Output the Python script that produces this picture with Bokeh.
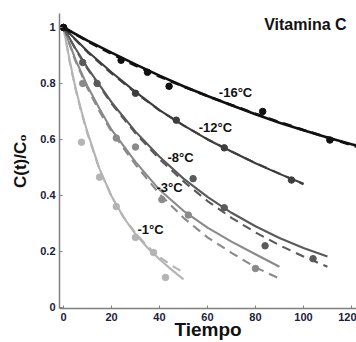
from bokeh.plotting import figure
from bokeh.models import Range1d, FixedTicker, Label
from bokeh.embed import file_html
from bokeh.resources import INLINE

# ---- data ----
temps = ["-16°C", "-12°C", "-8°C", "-3°C", "-1°C"]
colors = ["#111111", "#3e3e3e", "#5a5a5a", "#8a8a8a", "#b4b4b4"]

t16 = [0, 10, 20, 30, 40, 50, 60, 70, 80, 90, 100, 110, 120, 125]
s16 = [1, 0.953, 0.91, 0.868, 0.828, 0.79, 0.755, 0.722, 0.69, 0.66, 0.633, 0.607, 0.583, 0.572]
d16 = [1, 0.951, 0.906, 0.864, 0.825, 0.789, 0.755, 0.723, 0.692, 0.662, 0.634, 0.607, 0.580, 0.567]

t12 = [0, 10, 20, 30, 40, 50, 60, 70, 80, 90, 100]
s12 = [1, 0.915, 0.84, 0.77, 0.705, 0.65, 0.6, 0.557, 0.515, 0.477, 0.442]
d12 = [1, 0.912, 0.836, 0.767, 0.704, 0.65, 0.601, 0.557, 0.516, 0.478, 0.440]

t8 = [0, 5, 10, 20, 30, 40, 50, 60, 70, 80, 90, 100, 110]
s8 = [1, 0.925, 0.856, 0.733, 0.628, 0.538, 0.46, 0.395, 0.338, 0.29, 0.248, 0.212, 0.182]
d8 = [1, 0.922, 0.852, 0.728, 0.622, 0.53, 0.45, 0.38, 0.32, 0.268, 0.222, 0.182, 0.145]

t3 = [0, 5, 10, 15, 20, 30, 40, 50, 60, 70, 80, 90]
s3 = [1, 0.885, 0.79, 0.71, 0.635, 0.52, 0.42, 0.345, 0.285, 0.235, 0.19, 0.145]
d3 = [1, 0.88, 0.783, 0.70, 0.628, 0.51, 0.405, 0.32, 0.25, 0.195, 0.143, 0.103]

t1 = [0, 2.5, 5, 7.5, 10, 15, 20, 25, 30, 35, 40, 45, 50]
s1 = [1, 0.885, 0.785, 0.7, 0.625, 0.495, 0.398, 0.322, 0.262, 0.213, 0.172, 0.135, 0.10]
d1 = [1, 0.88, 0.78, 0.695, 0.62, 0.492, 0.397, 0.323, 0.265, 0.218, 0.18, 0.15, 0.125]

p16_t = [0, 24, 35, 44, 83, 111]
p16_c = [1, 0.883, 0.84, 0.79, 0.70, 0.598]
p12_t = [0, 30, 47, 67, 95]
p12_c = [1, 0.765, 0.669, 0.57, 0.455]
p8_t = [0, 8, 14, 54, 67, 84, 104]
p8_c = [1, 0.875, 0.80, 0.46, 0.356, 0.22, 0.174]
p3_t = [0, 8, 22, 30, 41, 52, 80]
p3_c = [1, 0.80, 0.605, 0.573, 0.385, 0.33, 0.139]
p1_t = [0, 7.5, 15, 22, 30, 37.5, 42.5]
p1_c = [1, 0.59, 0.465, 0.36, 0.25, 0.196, 0.107]

# label anchor positions (data units)
label_t = [71.7, 63.3, 48.8, 44.2, 36.3]
label_c = [0.769, 0.644, 0.537, 0.43, 0.278]

x_ticks = [0, 20, 40, 60, 80, 100, 120]
y_ticks = [0, 0.2, 0.4, 0.6, 0.8, 1]
y_tick_labels = ["0", "0.2", "0.4", "0.6", "0.8", "1"]

FONT = "Liberation Sans"

p = figure(width=356, height=342, output_backend="svg", toolbar_location=None,
           x_range=Range1d(-1.67, 122.1), y_range=Range1d(-0.004, 1.05),
           min_border_left=59, min_border_right=0, min_border_top=13, min_border_bottom=0)
p.grid.visible = False
p.outline_line_color = None
p.background_fill_color = "white"

series = [
    (t16, s16, d16, p16_t, p16_c),
    (t12, s12, d12, p12_t, p12_c),
    (t8, s8, d8, p8_t, p8_c),
    (t3, s3, d3, p3_t, p3_c),
    (t1, s1, d1, p1_t, p1_c),
]

for (tt, ss, dd, pt, pc), col in zip(reversed(series), reversed(colors)):
    lw = 2.6 if col == "#111111" else 2.1
    p.line(tt, ss, line_color=col, line_width=lw)
    p.line(tt, dd, line_color=col, line_width=lw, line_dash="9 6")
    p.scatter(pt, pc, size=6.5, fill_color=col, line_color=col)

for name, lt, lc in zip(temps, label_t, label_c):
    p.add_layout(Label(x=lt, y=lc, text=name, text_font=FONT, text_font_style="bold",
                       text_font_size="13px", text_color="#111111",
                       text_align="center", text_baseline="middle"))

p.add_layout(Label(x=100.8, y=1.01, text="Vitamina C", text_font=FONT, text_font_style="bold",
                   text_font_size="16px", text_color="#111111",
                   text_align="center", text_baseline="middle"))

for ax in (p.xaxis[0], p.yaxis[0]):
    ax.axis_line_color = "#7f7f7f"
    ax.axis_line_width = 1.5
    ax.major_tick_line_color = "#7f7f7f"
    ax.major_tick_line_width = 1
    ax.major_tick_in = 3
    ax.major_tick_out = 0
    ax.minor_tick_line_color = None
    ax.major_label_text_font = FONT
    ax.major_label_text_font_style = "bold"
    ax.major_label_text_font_size = "11px"
    ax.major_label_text_color = "#1c1c3c"
    ax.axis_label_text_font = FONT
    ax.axis_label_text_font_style = "bold"
    ax.axis_label_text_color = "#111111"

p.xaxis[0].ticker = FixedTicker(ticks=x_ticks)
p.xaxis[0].major_label_standoff = 4
p.xaxis[0].axis_label = "Tiempo"
p.xaxis[0].axis_label_text_font_size = "19px"
p.xaxis[0].axis_label_standoff = -5

p.yaxis[0].ticker = FixedTicker(ticks=y_ticks)
p.yaxis[0].major_label_overrides = {v: s for v, s in zip(y_ticks, y_tick_labels)}
p.yaxis[0].major_label_standoff = 4
p.yaxis[0].axis_label = "C(t)/C₀"
p.yaxis[0].axis_label_text_font_size = "17px"
p.yaxis[0].axis_label_standoff = 7

open("out.html", "w").write(file_html(p, INLINE))
